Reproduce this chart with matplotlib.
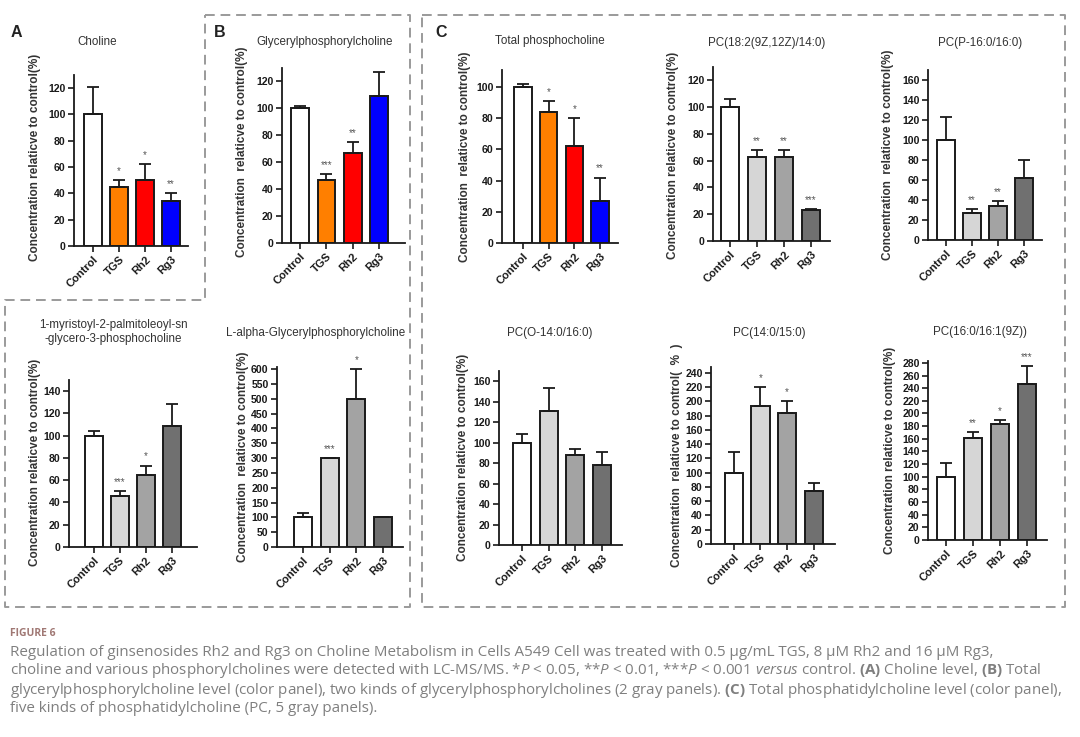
import matplotlib
matplotlib.use("Agg")
import matplotlib.pyplot as plt
import numpy as np

plt.rcParams['font.family'] = ['Liberation Sans', 'DejaVu Sans']
plt.rcParams['mathtext.fontset'] = 'custom'
plt.rcParams['mathtext.rm'] = 'Open Sans'
plt.rcParams['mathtext.it'] = 'Open Sans:italic'
plt.rcParams['mathtext.bf'] = 'Open Sans:bold'

# ---------------- data ----------------
groups = ["Control", "TGS", "Rh2", "Rg3"]

choline_vals = [100, 45, 50, 34]
choline_err = [21, 5, 12, 6]
choline_sig = ["", "*", "*", "**"]

gpc_vals = [100, 47, 67, 109]
gpc_err = [2, 4, 8, 18]
gpc_sig = ["", "***", "**", ""]

total_pc_vals = [100, 84, 62, 27]
total_pc_err = [2, 7, 18, 15]
total_pc_sig = ["", "*", "*", "**"]

pc182_vals = [100, 63, 63, 23]
pc182_err = [6, 5, 5, 1]
pc182_sig = ["", "**", "**", "***"]

pcp16_vals = [100, 27, 34, 62]
pcp16_err = [23, 4, 5, 18]
pcp16_sig = ["", "**", "**", ""]

myr_vals = [100, 46, 65, 109]
myr_err = [4, 4, 8, 19]
myr_sig = ["", "***", "*", ""]

lagpc_vals = [100, 300, 500, 100]
lagpc_err = [15, 0, 100, 0]
lagpc_sig = ["", "***", "*", ""]

pco14_vals = [100, 131, 88, 78]
pco14_err = [8, 22, 6, 13]
pco14_sig = ["", "", "", ""]

pc1415_vals = [100, 194, 183, 74]
pc1415_err = [29, 26, 17, 12]
pc1415_sig = ["", "*", "*", ""]

pc1616_vals = [100, 161, 183, 247]
pc1616_err = [21, 9, 6, 28]
pc1616_sig = ["", "**", "*", "***"]

color_fill = ["#FFFFFF", "#FF7F00", "#FF0000", "#0000FF"]
gray_fill = ["#FFFFFF", "#D6D6D6", "#A3A3A3", "#707070"]

W, H = 1080, 737
fig = plt.figure(figsize=(W / 100, H / 100), dpi=100)

# overlay for decorations / text in pixel coordinates
ov = fig.add_axes([0, 0, 1, 1], zorder=-1)
ov.set_xlim(0, W)
ov.set_ylim(H, 0)
ov.axis("off")


def rect(l, r, t, b):
    return [l / W, 1 - b / H, (r - l) / W, (b - t) / H]


panels = [
    # title, vals, err, sig, fills, ylabel, ytop, ystep, (l,r,t,b), xlim, title_xy, ylab_xy
    ("Choline", choline_vals, choline_err, choline_sig, color_fill,
     "Concentration relaticve to control(%)", 130, 20, (74, 188, 75, 246), (-0.73, 3.65), (97, 42), (35, 157)),
    ("Glycerylphosphorylcholine", gpc_vals, gpc_err, gpc_sig, color_fill,
     "Concentration  relaticve to control(%)", 130, 20, (282, 405, 68, 243), (-0.7, 4.0), (325, 42), (242, 152)),
    ("Total phosphocholine", total_pc_vals, total_pc_err, total_pc_sig, color_fill,
     "Concentration  relaticve to control(%)", 111, 20, (502, 618, 70, 243), (-0.82, 3.7), (550, 41), (465, 157)),
    ("PC(18:2(9Z,12Z)/14:0)", pc182_vals, pc182_err, pc182_sig, gray_fill,
     "Concentration relaticve to control(%)", 130, 20, (713, 830, 67, 241), (-0.63, 3.7), (767, 43), (673, 155)),
    ("PC(P-16:0/16:0)", pcp16_vals, pcp16_err, pcp16_sig, gray_fill,
     "Concentration  relaticve to control(%)", 170, 20, (928, 1042, 70, 240), (-0.7, 3.7), (980, 43), (888, 155)),
    ("1-myristoyl-2-palmitoleoyl-sn\n-glycero-3-phosphocholine", myr_vals, myr_err, myr_sig, gray_fill,
     "Concentration relaticve to control(%)", 150, 20, (69, 197, 380, 547), (-0.95, 3.96), (113, 332), (35, 462)),
    ("L-alpha-Glycerylphosphorylcholine", lagpc_vals, lagpc_err, lagpc_sig, gray_fill,
     "Concentration  relaticve to control(%)", 607, 50, (277, 403, 367, 547), (-0.97, 3.75), (316, 333), (243, 457)),
    ("PC(O-14:0/16:0)", pco14_vals, pco14_err, pco14_sig, gray_fill,
     "Concentration relaticve to control(%)", 170, 20, (499, 622, 371, 545), (-0.86, 3.75), (550, 333), (463, 457)),
    ("PC(14:0/15:0)", pc1415_vals, pc1415_err, pc1415_sig, gray_fill,
     "Concentration  relaticve to control(  %  )", 248, 20, (711, 835, 367, 544), (-0.86, 3.8), (769, 333), (677, 455)),
    ("PC(16:0/16:1(9Z))", pc1616_vals, pc1616_err, pc1616_sig, gray_fill,
     "Concentration relaticve to control(%)", 283, 20, (928, 1047, 361, 540), (-0.67, 3.74), (980, 332), (890, 450)),
]

for (title, vals, err, sig, fills, ylab, ytop, ystep, box, xlim, txy, lxy) in panels:
    ax = fig.add_axes(rect(*box))
    x = np.arange(len(groups))
    ax.bar(x, vals, width=0.68, color=fills, edgecolor="#1a1a1a", linewidth=1.4, zorder=2)
    ax.errorbar(x, vals, yerr=[np.zeros(len(err)), err], fmt="none", ecolor="#1a1a1a",
                elinewidth=1.3, capsize=4.5, capthick=1.3, zorder=3)
    for xi, v, e, s in zip(x, vals, err, sig):
        if s:
            ax.annotate(s, (xi, v + e), xytext=(0, 3), textcoords="offset points",
                        ha="center", va="bottom", fontsize=7, color="#555555")
    ax.set_xlim(*xlim)
    ax.set_ylim(0, ytop)
    ax.set_yticks(np.arange(0, ytop + 0.1, ystep))
    ax.set_xticks(x)
    ax.set_xticklabels(groups, rotation=45, ha="right", rotation_mode="anchor",
                       fontsize=8, fontweight="bold", color="#333333")
    for lbl in ax.get_yticklabels():
        lbl.set_fontsize(7.6)
        lbl.set_fontweight("bold")
        lbl.set_color("#333333")
    for sp in ("top", "right"):
        ax.spines[sp].set_visible(False)
    for sp in ("left", "bottom"):
        ax.spines[sp].set_linewidth(1.3)
        ax.spines[sp].set_color("#1a1a1a")
    ax.tick_params(axis="both", direction="out", length=4, width=1.2, colors="#1a1a1a", pad=2)
    ax.patch.set_alpha(0)
    ov.text(txy[0], txy[1], title, ha="center", va="center", fontsize=8.4,
            color="#333333", linespacing=1.2)
    ov.text(lxy[0], lxy[1], ylab, ha="center", va="center", rotation=90,
            fontsize=8.5, fontweight="bold", color="#333333")

# panel letters
for letter, (px, py) in zip(["A", "B", "C"], [(16, 32), (220, 32), (441, 32)]):
    ov.text(px, py, letter, ha="center", va="center", fontsize=11.5, fontweight="bold", color="#222222")

# dashed group borders
dash = dict(color="#9a9a9a", linewidth=1.4, linestyle=(0, (5, 3)))
ov.plot([205, 410, 410, 5, 5, 205, 205], [15, 15, 607, 607, 300, 300, 15], **dash)
ov.plot([422, 1065, 1065, 422, 422], [15, 15, 607, 607, 15], **dash)

# caption
ov.text(10, 634, "FIGURE 6", ha="left", va="center", fontsize=7.5, fontweight="bold",
        color="#a07874", family="Open Sans")
cap_lines = [
    "Regulation of ginsenosides Rh2 and Rg3 on Choline Metabolism in Cells A549 Cell was treated with 0.5 μg/mL TGS, 8 μM Rh2 and 16 μM Rg3,",
    r"choline and various phosphorylcholines were detected with LC-MS/MS. *$\mathit{P}$ < 0.05, **$\mathit{P}$ < 0.01, ***$\mathit{P}$ < 0.001 $\mathit{versus}$ control. $\mathbf{(A)}$ Choline level, $\mathbf{(B)}$ Total",
    r"glycerylphosphorylcholine level (color panel), two kinds of glycerylphosphorylcholines (2 gray panels). $\mathbf{(C)}$ Total phosphatidylcholine level (color panel),",
    "five kinds of phosphatidylcholine (PC, 5 gray panels).",
]
for i, line in enumerate(cap_lines):
    ov.text(10, 652 + 19 * i, line, ha="left", va="center", fontsize=10.9,
            color="#7f7f7f", family="Open Sans")

fig.savefig("out.png", dpi=100)
